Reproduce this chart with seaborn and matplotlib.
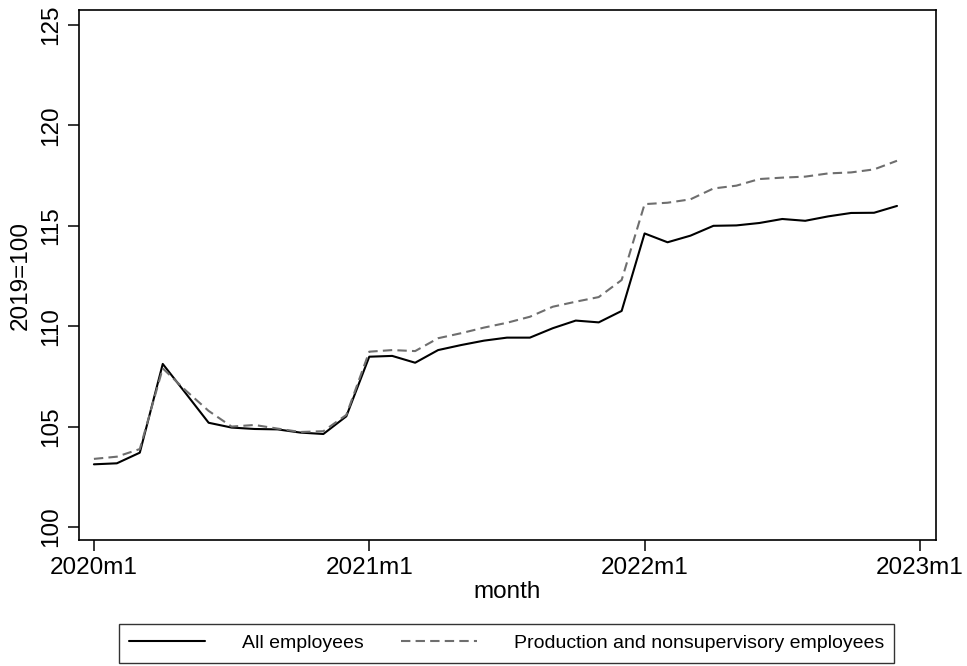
import numpy as np
import pandas as pd
import matplotlib
matplotlib.use("Agg")
import matplotlib.pyplot as plt
import seaborn as sns

# Monthly wage index, 2020m1 .. 2022m12 (2019 = 100)
months = [f"{y}m{m}" for y in (2020, 2021, 2022) for m in range(1, 13)]
all_employees = [
    103.12, 103.17, 103.70, 108.12, 106.66, 105.19, 104.95, 104.88, 104.86, 104.70, 104.63, 105.51,
    108.48, 108.52, 108.18, 108.81, 109.06, 109.28, 109.43, 109.43, 109.90, 110.28, 110.19, 110.76,
    114.62, 114.18, 114.51, 115.00, 115.02, 115.14, 115.34, 115.25, 115.47, 115.64, 115.65, 115.99,
]
production_nonsup = [
    103.39, 103.50, 103.88, 107.90, 106.80, 105.78, 105.00, 105.08, 104.90, 104.73, 104.77, 105.58,
    108.73, 108.81, 108.76, 109.40, 109.65, 109.93, 110.17, 110.47, 110.97, 111.22, 111.45, 112.30,
    116.08, 116.15, 116.32, 116.86, 117.00, 117.33, 117.40, 117.45, 117.61, 117.66, 117.81, 118.24,
]
series_names = ["All employees", "Production and nonsupervisory employees"]
x_tick_labels = ["2020m1", "2021m1", "2022m1", "2023m1"]
y_ticks = [100, 105, 110, 115, 120, 125]

idx = np.arange(len(months))
df = pd.concat([
    pd.DataFrame({"t": idx, "value": all_employees, "series": series_names[0]}),
    pd.DataFrame({"t": idx, "value": production_nonsup, "series": series_names[1]}),
])

sns.set_theme(style="white")
plt.rcParams["font.family"] = ["Liberation Sans", "DejaVu Sans"]
plt.rcParams.update({
    "text.color": "black",
    "axes.labelcolor": "black",
    "xtick.color": "black",
    "ytick.color": "black",
})

fig = plt.figure(figsize=(9.67, 6.66), dpi=100)
ax = fig.add_axes([79 / 967, 1 - 540 / 666, (936 - 79) / 967, (540 - 10) / 666])

sns.lineplot(
    data=df, x="t", y="value", hue="series", style="series",
    palette={series_names[0]: "#000000", series_names[1]: "#6e6e6e"},
    dashes={series_names[0]: "", series_names[1]: (4.5, 2.5)},
    linewidth=1.5, ax=ax, legend=False,
)

ax.set_xlim(-0.65, 36.7)
ax.set_ylim(99.35, 125.75)
ax.set_xticks([0, 12, 24, 36])
ax.set_xticklabels(x_tick_labels, fontsize=17.5)
ax.set_yticks(y_ticks)
ax.set_yticklabels([str(v) for v in y_ticks], fontsize=17.5, rotation=90, va="center")
ax.tick_params(axis="both", direction="out", length=8, width=1.1, color="black",
               labelcolor="black", bottom=True, left=True, pad=4)
ax.set_xlabel("month", fontsize=17.5, labelpad=2, color="black")
ax.set_ylabel("2019=100", fontsize=17.5, labelpad=6, color="black")

for side in ("left", "right", "top", "bottom"):
    ax.spines[side].set_visible(True)
    ax.spines[side].set_color("black")
    ax.spines[side].set_linewidth(1.2)

handles = [
    plt.Line2D([], [], color="#000000", lw=1.5),
    plt.Line2D([], [], color="#6e6e6e", lw=1.5, dashes=(4.5, 2.5)),
]
leg = fig.legend(
    handles, series_names, loc="center", bbox_to_anchor=(506.5 / 967, 1 - 643 / 666),
    ncol=2, fontsize=14, frameon=True, fancybox=False, shadow=False,
    handlelength=3.9, handletextpad=1.9, columnspacing=1.9,
    borderpad=0.55, borderaxespad=0,
)
leg.get_frame().set_edgecolor("black")
leg.get_frame().set_linewidth(1.0)
for t in leg.get_texts():
    t.set_color("black")

fig.savefig("out.png", dpi=100, facecolor="white")
